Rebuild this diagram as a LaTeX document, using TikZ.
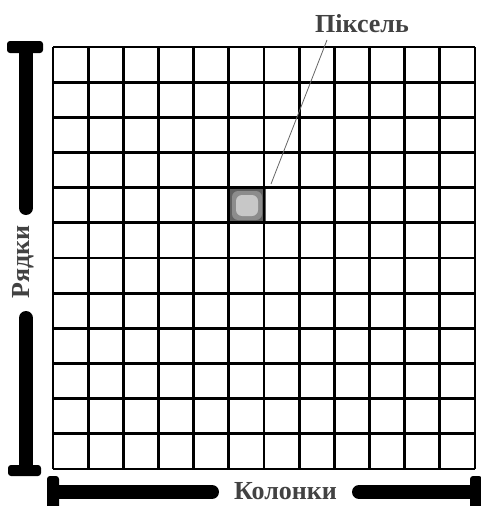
\documentclass[tikz,border=0pt]{standalone}
\usepackage{fontspec}
\setmainfont{Liberation Serif}
\begin{document}
\begin{tikzpicture}[x=1pt,y=-1pt,
  gridline/.style={line width=2.8pt,black},
  bar/.style={line width=14pt,black,line cap=round},
  capbox/.style={fill=black,rounded corners=3pt},
  lbl/.style={font=\bfseries\fontsize{26}{26}\selectfont,text=black!74,inner sep=0pt}]
\useasboundingbox (0,0) rectangle (480,506);
% highlighted pixel
\fill[black!62] (228.5,187) rectangle (265.5,224);
\fill[black!45,rounded corners=6pt] (232,191) rectangle (262,220);
\fill[black!22,rounded corners=6pt] (236,195) rectangle (258,216);
% grid
\foreach \i in {0,...,12}{
  \draw[gridline] ({53+\i*35.1667},47) -- ({53+\i*35.1667},469);
  \draw[gridline] (53,{47+\i*35.1667}) -- (475,{47+\i*35.1667});
}
% label Піксель
\node[lbl] (pix) at (362,23.5) {Піксель};
\coordinate (leadA) at (327,40);
\coordinate (leadB) at (271,184);
\draw[black!60,line width=0.8pt] (leadA) -- (leadB);
% rows bar
\draw[bar] (26,50) -- (26,208);
\draw[bar] (26,318) -- (26,467);
\fill[capbox] (7,41) rectangle (43,53);
\fill[capbox] (8,465) rectangle (41,476);
\node[lbl,rotate=90] (rows) at (23.5,262) {Рядки};
% columns bar
\draw[bar] (56,492) -- (212,492);
\draw[bar] (359,492) -- (472,492);
\fill[capbox] (47,476) rectangle (59,512);
\fill[capbox] (470,476) rectangle (482,512);
\node[lbl] (cols) at (285.5,491.5) {Колонки};
\end{tikzpicture}
\end{document}
